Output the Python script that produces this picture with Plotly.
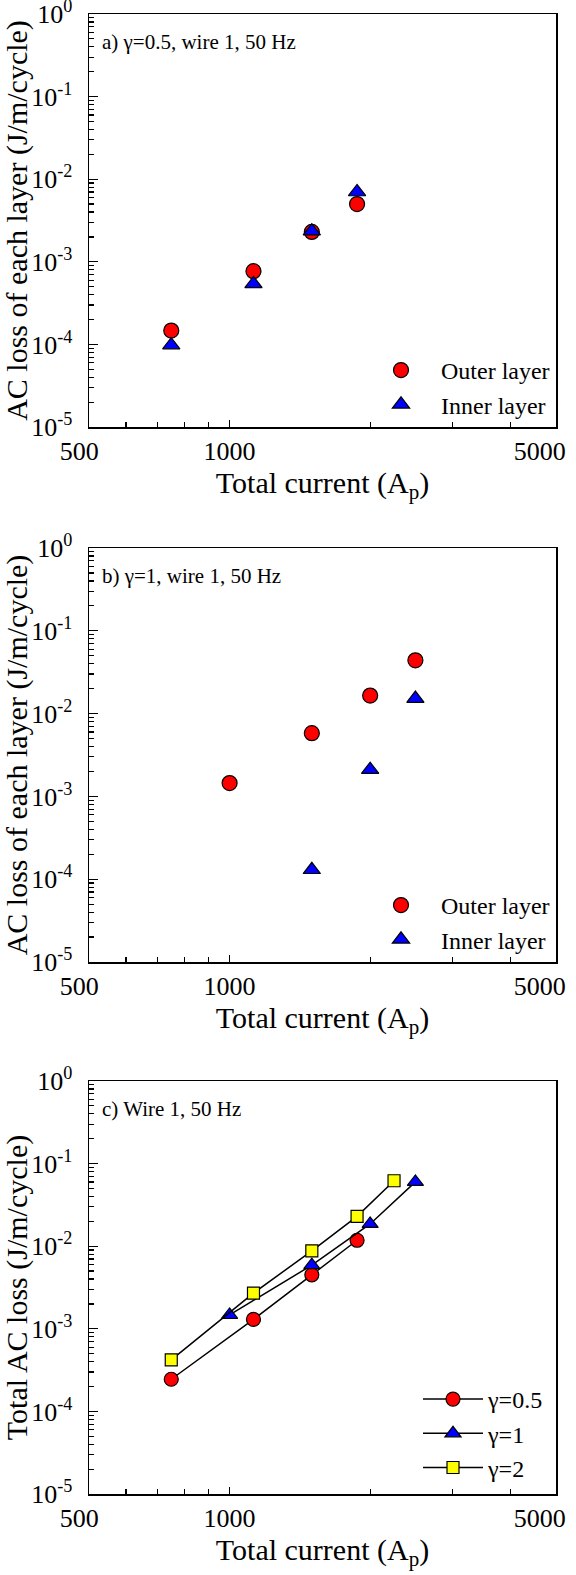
import plotly.graph_objects as go
import numpy as np

# ---------------- data ----------------
# Panel a: gamma = 0.5, wire 1, 50 Hz
a_current = [750, 1125, 1500, 1875]
a_outer = [1.47e-4, 7.7e-4, 2.3e-3, 5.0e-3]
a_inner = [9.8e-5, 5.4e-4, 2.35e-3, 7.0e-3]

# Panel b: gamma = 1, wire 1, 50 Hz
b_current_outer = [1000, 1500, 2000, 2500]
b_outer = [1.45e-3, 5.8e-3, 1.65e-2, 4.4e-2]
b_current_inner = [1500, 2000, 2500]
b_inner = [1.3e-4, 2.1e-3, 1.52e-2]

# Panel c: total AC loss, wire 1, 50 Hz
c_current_g05 = [750, 1125, 1500, 1875]
c_total_g05 = [2.45e-4, 1.3e-3, 4.5e-3, 1.18e-2]
c_current_g1 = [1000, 1500, 2000, 2500]
c_total_g1 = [1.47e-3, 5.9e-3, 1.86e-2, 6.0e-2]
c_current_g2 = [750, 1125, 1500, 1875, 2250]
c_total_g2 = [4.2e-4, 2.7e-3, 8.8e-3, 2.3e-2, 6.2e-2]

NB = "\u00a0"
x_tickvals = [500, 1000, 5000]
x_ticktext = ["500" + NB * 3, "1000", "5000" + NB * 5]
x_minor = [600, 700, 800, 900, 2000, 3000, 4000]
y_tickvals = [1e-5, 1e-4, 1e-3, 1e-2, 1e-1, 1]
y_ticktext = ["10<sup>-5</sup>", "10<sup>-4</sup>", "10<sup>-3</sup>",
              "10<sup>-2</sup>", "10<sup>-1</sup>", "10<sup>0</sup>"]
y_minor = [m * 10.0 ** k for k in range(-5, 0) for m in range(2, 10)]

panel_labels = ["a) \u03b3=0.5, wire 1, 50 Hz", "b) \u03b3=1, wire 1, 50 Hz", "c) Wire 1, 50 Hz"]
y_titles = ["AC loss of each layer (J/m/cycle)", "AC loss of each layer (J/m/cycle)",
            "Total AC loss (J/m/cycle)"]
x_title = "Total current (A<sub>p</sub>)"

# ---------------- figure ----------------
FONT = "Liberation Serif"
W, H = 576, 1575
ML, MR, MT, MB = 89, 20, 14, 81
PH = H - MT - MB
PW = W - ML - MR


def pfrac(ypix):
    return (H - MB - ypix) / PH


domains = [
    [pfrac(427), pfrac(14)],
    [pfrac(962), pfrac(548)],
    [pfrac(1494), pfrac(1081)],
]

fig = go.Figure()

RED = "#ff0000"
BLUE = "#0000ff"
YEL = "#ffff00"
mline = dict(color="black", width=1.2)

# panel a
fig.add_trace(go.Scatter(x=a_current, y=a_outer, mode="markers", name="Outer layer",
                         marker=dict(symbol="circle", size=15, color=RED, line=mline),
                         xaxis="x", yaxis="y", legend="legend"))
fig.add_trace(go.Scatter(x=a_current, y=a_inner, mode="markers", name="Inner layer",
                         marker=dict(symbol="triangle-up", size=15, color=BLUE, line=mline),
                         xaxis="x", yaxis="y", legend="legend"))
# panel b
fig.add_trace(go.Scatter(x=b_current_outer, y=b_outer, mode="markers", name="Outer layer",
                         marker=dict(symbol="circle", size=15, color=RED, line=mline),
                         xaxis="x2", yaxis="y2", legend="legend2"))
fig.add_trace(go.Scatter(x=b_current_inner, y=b_inner, mode="markers", name="Inner layer",
                         marker=dict(symbol="triangle-up", size=15, color=BLUE, line=mline),
                         xaxis="x2", yaxis="y2", legend="legend2"))
# panel c
lstyle = dict(color="black", width=1.5)
fig.add_trace(go.Scatter(x=c_current_g05, y=c_total_g05, mode="lines+markers", name="\u03b3=0.5",
                         line=lstyle,
                         marker=dict(symbol="circle", size=14, color=RED, line=mline),
                         xaxis="x3", yaxis="y3", legend="legend3"))
fig.add_trace(go.Scatter(x=c_current_g1, y=c_total_g1, mode="lines+markers", name="\u03b3=1",
                         line=lstyle,
                         marker=dict(symbol="triangle-up", size=14, color=BLUE, line=mline),
                         xaxis="x3", yaxis="y3", legend="legend3"))
fig.add_trace(go.Scatter(x=c_current_g2, y=c_total_g2, mode="lines+markers", name="\u03b3=2",
                         line=lstyle,
                         marker=dict(symbol="square", size=12, color=YEL, line=mline),
                         xaxis="x3", yaxis="y3", legend="legend3"))

layout = dict(
    width=W, height=H,
    margin=dict(l=ML, r=MR, t=MT, b=MB, autoexpand=False),
    paper_bgcolor="white", plot_bgcolor="white",
    font=dict(family=FONT, color="black", size=24),
    showlegend=True,
    hovermode=False,
)

EPS = 1e-4
for i in range(3):
    sx = "" if i == 0 else str(i + 1)
    layout["xaxis" + sx] = dict(
        type="log", range=[np.log10(500) - EPS, np.log10(5000) + EPS],
        domain=[0, 1], anchor="y" + sx, automargin=False,
        tickmode="array", tickvals=x_tickvals, ticktext=x_ticktext,
        ticks="inside", ticklen=7, tickwidth=1.2, tickcolor="black",
        minor=dict(tickmode="array", tickvals=x_minor, ticks="inside", ticklen=5,
                   tickwidth=1.2, tickcolor="black", showgrid=False),
        showline=True, linecolor="black", linewidth=1.5, mirror=True,
        showgrid=False, zeroline=False, ticklabeloverflow="allow",
        tickfont=dict(family=FONT, size=26, color="black"),
        ticklabelstandoff=0,
        title=dict(text=x_title, font=dict(family=FONT, size=30, color="black"), standoff=0),
    )
    layout["yaxis" + sx] = dict(
        type="log", range=[-5, 0],
        domain=domains[i], anchor="x" + sx, automargin=False,
        tickmode="array", tickvals=y_tickvals, ticktext=y_ticktext,
        ticks="inside", ticklen=9, tickwidth=1.2, tickcolor="black",
        minor=dict(tickmode="array", tickvals=y_minor, ticks="inside", ticklen=5,
                   tickwidth=1.2, tickcolor="black", showgrid=False),
        showline=True, linecolor="black", linewidth=1.5, mirror=True,
        showgrid=False, zeroline=False, ticklabeloverflow="allow",
        tickfont=dict(family=FONT, size=26, color="black"),
        ticklabelstandoff=10,
        title=dict(text=y_titles[i], font=dict(family=FONT, size=30, color="black"), standoff=2),
    )

legend_common = dict(
    xref="paper", yref="paper", xanchor="right", yanchor="bottom",
    bgcolor="rgba(0,0,0,0)", borderwidth=0,
    font=dict(family=FONT, size=24, color="black"),
    tracegroupgap=0,
)
layout["legend"] = dict(legend_common, x=1 - 1 / PW, y=domains[0][0] + 0 / PH, itemwidth=70)
layout["legend2"] = dict(legend_common, x=1 - 1 / PW, y=domains[1][0] + 0 / PH, itemwidth=70)
layout["legend3"] = dict(legend_common, x=1 - 7 / PW, y=domains[2][0] + 4 / PH, itemwidth=60)

annotations = []
for i in range(3):
    sx = "" if i == 0 else str(i + 1)
    annotations.append(dict(
        text=panel_labels[i], xref="x" + sx + " domain", yref="y" + sx + " domain",
        x=0, y=1, xanchor="left", yanchor="middle", xshift=11, yshift=-28,
        showarrow=False, font=dict(family=FONT, size=21, color="black"),
    ))
layout["annotations"] = annotations

fig.update_layout(**layout)
fig.write_html("out.html", config={"displayModeBar": False, "staticPlot": True},
               post_script="document.body.style.margin='0px';")
